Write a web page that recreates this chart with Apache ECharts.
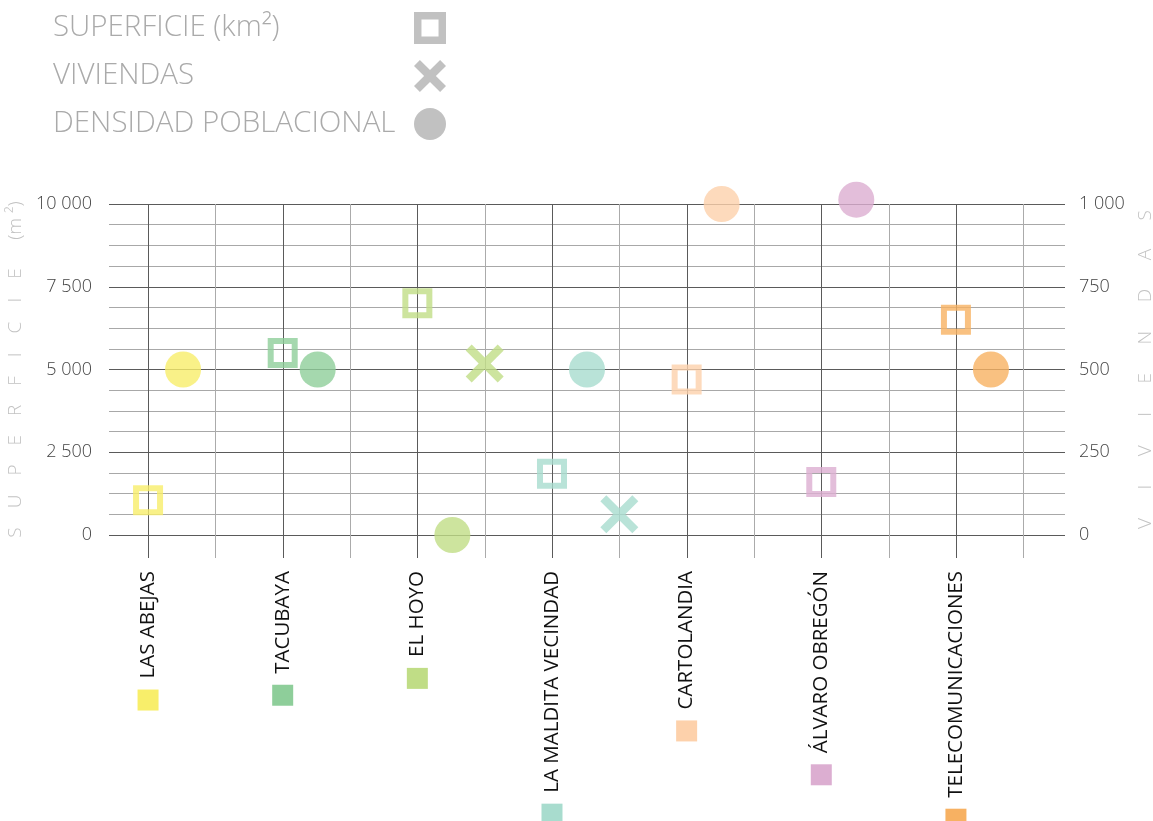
<!DOCTYPE html>
<html>
<head>
<meta charset="utf-8">
<script src="https://cdn.jsdelivr.net/npm/echarts@6/dist/echarts.min.js"></script>
<style>
  html, body { margin: 0; padding: 0; background: #ffffff; }
  #chart { width: 1153px; height: 821px; }
</style>
</head>
<body>
<div id="chart"></div>
<script>
// Neighbourhoods and their colours
const categories = ['LAS ABEJAS', 'TACUBAYA', 'EL HOYO', 'LA MALDITA VECINDAD', 'CARTOLANDIA', 'ÁLVARO OBREGÓN', 'TELECOMUNICACIONES'];
const colors = ['#F8EE6A', '#8ECE9A', '#C0DD86', '#A8DCCE', '#FDD1AB', '#DCAED1', '#F7B162'];

// Values per neighbourhood
const superficie = [1050, 5500, 7000, 1850, 4700, 1600, 6500];
const viviendas = [null, null, 518, 63, null, null, null];
const densidad = [5000, 5000, 0, 5000, 10000, 10130, 5000];

// Labelled ticks on each value axis
const superficieTicks = [0, 2500, 5000, 7500, 10000];
const viviendasTicks = [0, 250, 500, 750, 1000];

const FONT = "'Open Sans', 'Noto Sans', sans-serif";
const SQUARE_PATH = 'path://M0,0H30V30H0Z M6,6V24H24V6Z';
const LEGEND_SQUARE_PATH = 'path://M0,0H30V30H0Z M7,7V23H23V7Z';
const CROSS_PATH = 'path://M0,6L6,0L19,13L32,0L38,6L25,19L38,32L32,38L19,25L6,38L0,32L13,19Z';
const LEGEND_CROSS_PATH = 'path://M0,7L7,0L19,12L31,0L38,7L26,19L38,31L31,38L19,26L7,38L0,31L12,19Z';

const thousands = v => String(v).replace(/\B(?=(\d{3})+(?!\d))/g, ' ');
const spaced = (s, sep) => s.split('').join(sep);

const LEGEND_NAMES = ['SUPERFICIE (km²)', 'VIVIENDAS', 'DENSIDAD POBLACIONAL'];

// rich styles for the category labels: a colour swatch per neighbourhood
const labelRich = {
  t: { fontSize: 20.5, color: '#111111', fontFamily: FONT },
  g: { width: 11 }
};
colors.forEach((c, i) => {
  labelRich['s' + i] = { width: 21, height: 21, backgroundColor: c };
});

// vertical grid: a dark line at each neighbourhood and a light one half-way
const gridX = [];
categories.forEach((_, i) => { gridX.push([i, 0]); gridX.push([i + 0.5, 0]); });

const chart = echarts.init(document.getElementById('chart'), null, { renderer: 'canvas' });

chart.setOption({
  animation: false,
  backgroundColor: '#ffffff',
  legend: {
    orient: 'vertical',
    left: 53,
    top: 12,
    padding: 0,
    itemGap: 16,
    itemWidth: 32,
    itemHeight: 32,
    align: 'right',
    selectedMode: false,
    formatter: n => '{a|' + n + '}',
    textStyle: {
      rich: {
        a: { width: 356, align: 'left', fontSize: 29.5, lineHeight: 32, color: '#aaaaaa', fontFamily: FONT, fontWeight: 300 }
      }
    },
    data: [
      { name: LEGEND_NAMES[0], icon: LEGEND_SQUARE_PATH, itemStyle: { color: '#b1b1b1', borderWidth: 0 } },
      { name: LEGEND_NAMES[1], icon: LEGEND_CROSS_PATH, itemStyle: { color: '#b1b1b1', borderWidth: 0 } },
      { name: LEGEND_NAMES[2], icon: 'circle', itemStyle: { color: '#b1b1b1', borderWidth: 0 } }
    ]
  },
  grid: { left: 109, right: 88, top: 204, bottom: 286, containLabel: false, outerBoundsMode: 'none' },
  xAxis: {
    type: 'value',
    min: -0.29,
    max: 6.81,
    axisLine: { show: false },
    axisTick: { show: false },
    splitLine: { show: false },
    axisLabel: {
      customValues: categories.map((_, i) => i),
      rotate: 90,
      margin: 36,
      formatter: v => {
        const i = Math.round(v);
        return '{s' + i + '| }{g| }{t|' + categories[i] + '}';
      },
      rich: labelRich
    }
  },
  yAxis: [
    {
      type: 'value',
      min: 0,
      max: 10000,
      interval: 625,
      name: spaced('SUPERFICIE', '\u2003') + '\u2003\u2002(m ²)',
      nameLocation: 'middle',
      nameRotate: 90,
      nameGap: 81,
      nameTextStyle: { color: '#c2c2c2', fontSize: 19, fontFamily: FONT, fontWeight: 300 },
      axisLine: { show: false },
      axisTick: { show: false },
      axisLabel: {
        margin: 17,
        color: '#444444',
        fontSize: 18,
        fontFamily: FONT,
        fontWeight: 300,
        formatter: v => superficieTicks.includes(v) ? thousands(v) : ''
      },
      splitLine: {
        show: true,
        lineStyle: { color: ['#5a5a5a', '#a8a8a8', '#a8a8a8', '#a8a8a8'], width: 1 }
      }
    },
    {
      type: 'value',
      min: 0,
      max: 1000,
      interval: 62.5,
      position: 'right',
      name: spaced('VIVIENDAS', '\u2003\u2002'),
      nameLocation: 'middle',
      nameRotate: 90,
      nameGap: 70,
      nameTextStyle: { color: '#c2c2c2', fontSize: 19, fontFamily: FONT, fontWeight: 300 },
      axisLine: { show: false },
      axisTick: { show: false },
      splitLine: { show: false },
      axisLabel: {
        margin: 14,
        color: '#444444',
        fontSize: 18,
        fontFamily: FONT,
        fontWeight: 300,
        formatter: v => viviendasTicks.includes(v) ? thousands(v) : ''
      }
    }
  ],
  series: [
    {
      type: 'custom',
      silent: true,
      z: 1,
      xAxisIndex: 0,
      yAxisIndex: 0,
      encode: { x: 0, y: 1 },
      data: gridX,
      renderItem: (params, api) => {
        const x = api.value(0);
        const top = api.coord([x, 10000]);
        const bottom = api.coord([x, 0]);
        const px = Math.round(top[0]) + 0.5;
        return {
          type: 'line',
          shape: { x1: px, y1: top[1], x2: px, y2: bottom[1] + 23 },
          style: { stroke: Number.isInteger(x) ? '#5a5a5a' : '#ababab', lineWidth: 1 }
        };
      }
    },
    {
      name: LEGEND_NAMES[0],
      type: 'scatter',
      z: 3,
      clip: false,
      yAxisIndex: 0,
      symbol: SQUARE_PATH,
      symbolSize: 30,
      itemStyle: { color: '#b1b1b1' },
      emphasis: { disabled: true },
      data: superficie.map((v, i) => ({ value: [i, v], itemStyle: { color: colors[i] } }))
    },
    {
      name: LEGEND_NAMES[1],
      type: 'scatter',
      z: 3,
      clip: false,
      yAxisIndex: 1,
      symbol: CROSS_PATH,
      symbolSize: 38,
      itemStyle: { color: '#b1b1b1' },
      emphasis: { disabled: true },
      data: viviendas
        .map((v, i) => v == null ? null : ({ value: [i + 0.5, v], itemStyle: { color: colors[i] } }))
        .filter(d => d !== null)
    },
    {
      name: LEGEND_NAMES[2],
      type: 'scatter',
      z: 3,
      clip: false,
      yAxisIndex: 0,
      symbol: 'circle',
      symbolSize: 36,
      itemStyle: { color: '#b1b1b1' },
      emphasis: { disabled: true },
      data: densidad.map((v, i) => ({ value: [i + 0.26, v], itemStyle: { color: colors[i] } }))
    }
  ]
});
</script>
</body>
</html>
